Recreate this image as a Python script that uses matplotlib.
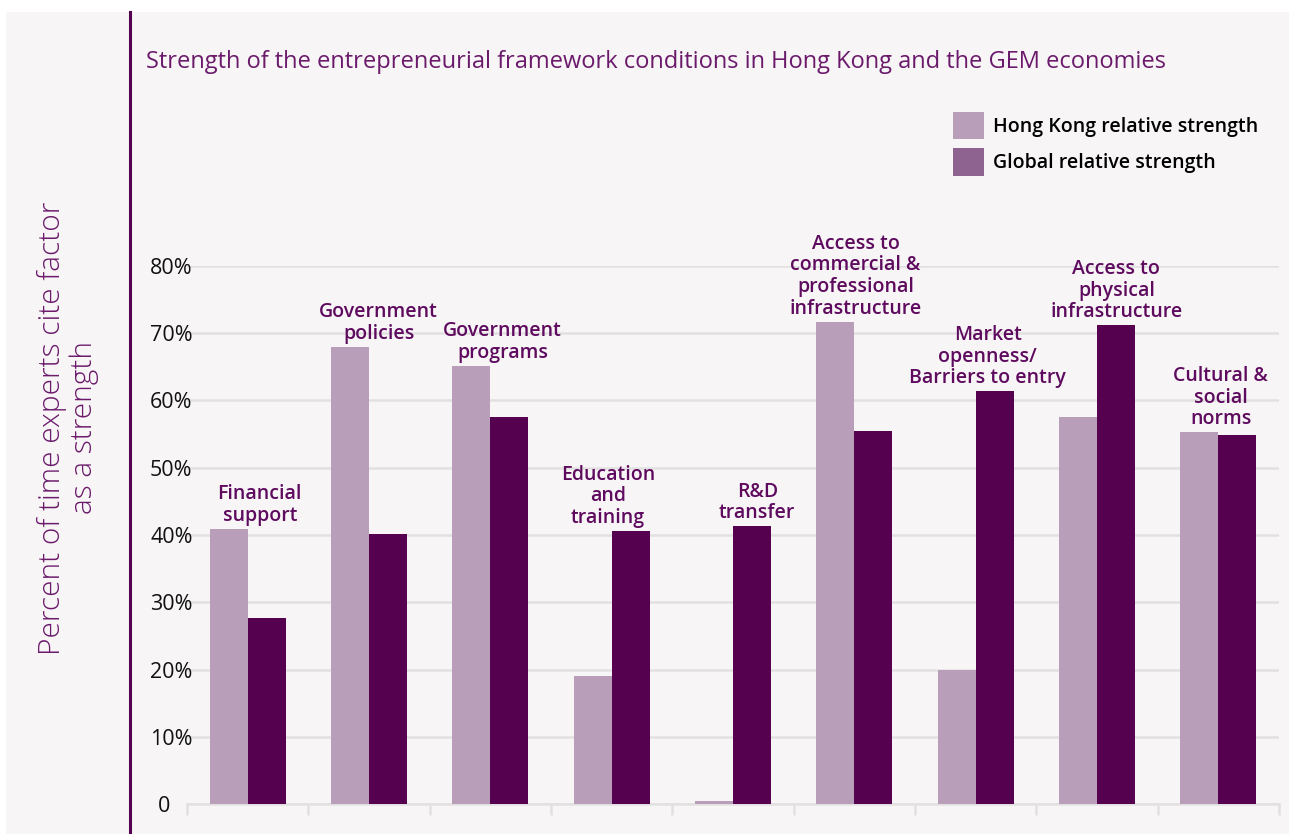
import matplotlib
matplotlib.use("Agg")
import matplotlib.pyplot as plt
import numpy as np
from matplotlib.patches import Patch, Rectangle
from matplotlib.lines import Line2D

categories = ["Financial\nsupport", "Government\npolicies", "Government\nprograms",
              "Education\nand\ntraining", "R&D\ntransfer",
              "Access to\ncommercial &\nprofessional\ninfrastructure",
              "Market\nopenness/\nBarriers to entry",
              "Access to\nphysical\ninfrastructure", "Cultural &\nsocial\nnorms"]
hong_kong = [40.9, 68.0, 65.2, 19.0, 0.4, 71.7, 19.9, 57.6, 55.3]
global_vals = [27.6, 40.1, 57.5, 40.6, 41.3, 55.4, 61.4, 71.2, 54.9]
yticks = [0, 10, 20, 30, 40, 50, 60, 70, 80]
ytick_labels = ["0    ", "10%", "20%", "30%", "40%", "50%", "60%", "70%", "80%"]

# label nudges (category units), just for placement
label_dx = [0.1, 0.08, 0.1, -0.03, 0.2, 0.01, 0.1, 0.16, 0.02]

purple = "#560050"
light = "#b89eb9"
text_purple = "#5e0a5e"
bg = "#f7f5f6"
grid_c = "#e2e0e1"

plt.rcParams['font.family'] = ['Open Sans', 'DejaVu Sans']

fig = plt.figure(figsize=(12.89, 8.34), dpi=100)
fig.patch.set_facecolor("white")
fig.add_artist(Rectangle((6 / 1289, 0), 1 - 6 / 1289, 1 - 12 / 834,
                         transform=fig.transFigure, facecolor=bg, edgecolor="none", zorder=-10))
fig.add_artist(Line2D([130 / 1289, 130 / 1289], [0, 1 - 12 / 834], transform=fig.transFigure,
                      color=purple, lw=2.2))

ax = fig.add_axes([187 / 1289, 30 / 834, 1092 / 1289, 538 / 834])
ax.set_facecolor("none")

x = np.arange(len(categories))
w = 0.313
ax.bar(x - w / 2, hong_kong, w, color=light, zorder=3)
ax.bar(x + w / 2, global_vals, w, color=purple, zorder=3)

ax.set_xlim(-0.5, len(categories) - 0.5)
ax.set_ylim(0, 80)
ax.set_yticks(yticks)
ax.set_yticklabels(ytick_labels, fontsize=15.5, color="#111111")
ax.tick_params(axis="y", length=0, pad=-4)
ax.yaxis.grid(True, color=grid_c, lw=1.8, zorder=0)
ax.set_axisbelow(True)
for s in ["top", "right", "left"]:
    ax.spines[s].set_visible(False)
ax.spines["bottom"].set_color(grid_c)
ax.spines["bottom"].set_linewidth(1.8)
ax.set_xticks([])
ax.set_xticks(np.arange(-0.5, len(categories)), minor=True)
ax.tick_params(axis="x", which="minor", length=8, width=1.8, color=grid_c, labelbottom=False)

for i, lab in enumerate(categories):
    top = max(hong_kong[i], global_vals[i])
    ax.annotate(lab, (i + label_dx[i], top), xytext=(0, 2), textcoords="offset points",
                ha="center", va="bottom", fontsize=14, fontweight="semibold", color=text_purple,
                linespacing=1.12, annotation_clip=False)

fig.text(146 / 1289, 1 - 62 / 834, "Strength of the entrepreneurial framework conditions in Hong Kong and the GEM economies",
         fontsize=17, color="#6b1a6b", va="center", ha="left")

fig.text(68 / 1289, 1 - 428 / 834, "Percent of time experts cite factor\nas a strength",
         rotation=90, fontsize=21.5, color="#6b1a6b", va="center", ha="center",
         fontweight="light", linespacing=1.08)

handles = [Patch(facecolor=light, edgecolor="none"), Patch(facecolor="#8e6390", edgecolor="none")]
fig.legend(handles, ["Hong Kong relative strength", "Global relative strength"],
           loc="upper left", bbox_to_anchor=(945 / 1289, 1 - 104 / 834), frameon=False,
           prop={"size": 14, "weight": "semibold"}, handlelength=1.6, handleheight=1.8,
           handletextpad=0.45, labelspacing=0.45, borderaxespad=0)

fig.savefig("out.png", dpi=100, facecolor=fig.get_facecolor())
